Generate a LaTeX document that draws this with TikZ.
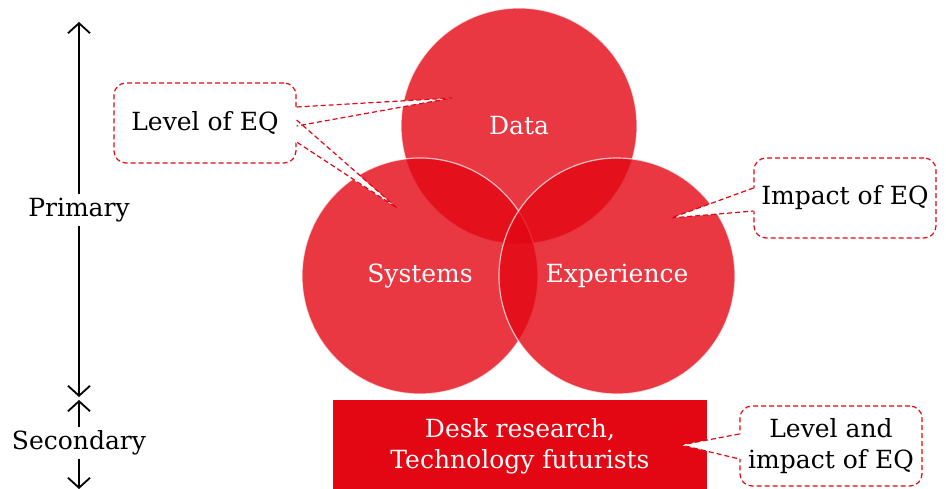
\documentclass[tikz,border=0pt]{standalone}
\usepackage{fontspec}
\setmainfont{DejaVu Serif}
\usetikzlibrary{arrows.meta, calc}
\definecolor{eqred}{RGB}{227,6,19}
\tikzstyle{venn} = [circle, minimum size=236pt, inner sep=0pt, fill=eqred, fill opacity=0.8, text opacity=1, draw=white, draw opacity=0.7, line width=1.2pt, text=white]
\tikzstyle{basebox} = [rectangle, minimum width=374pt, minimum height=92pt, fill=eqred, text=white, align=center]
\tikzstyle{callout} = [rectangle, rounded corners=12pt, minimum width=182pt, minimum height=80pt, draw=eqred, line width=1.2pt, dash pattern=on 5pt off 3pt, fill=white, align=center]
\tikzstyle{wedge} = [draw=eqred, line width=1.2pt, dash pattern=on 5pt off 3pt]
\tikzstyle{axisline} = [line width=1.8pt, -{Straight Barb[length=10pt,width=22pt]}]

\begin{document}
\begin{tikzpicture}[x=1pt, y=-1pt, font=\fontsize{25}{31}\selectfont]
	\useasboundingbox (0,0) rectangle (946,489);

		% Draw the nodes
		\node (data) [venn] at (519,126) {Data};
		\node (systems) [venn] at (420,276) {Systems};
		\node (experience) [venn] at (617,276) {Experience};
		\node (research) [basebox] at (520,446) {Desk research,\\Technology futurists};

		\node (level) [callout] at (205,123) {Level of EQ};
		\node (impact) [callout] at (845,198) {Impact of EQ};
		\node (both) [callout] at (831,446) {Level and\\impact of EQ};

		\node (primary) at (79,210) {Primary};
		\node (secondary) at (79,443) {Secondary};
		\coordinate (ptop) at (79,22);
		\coordinate (pbot) at (79,397);
		\coordinate (stop) at (79,400);
		\coordinate (sbot) at (79,489);

		% callout tips
		\coordinate (tipdata) at (452,98);
		\coordinate (tipsys) at (397,208);
		\coordinate (tipexp) at (671,218);
		\coordinate (tipres) at (681,445);

		%Draw the pointers
		\fill [white] ($(level.east)+(-2,-16)$) -- (tipdata) -- ($(level.east)+(-2,3)$) -- cycle;
		\fill [white] ($(level.east)+(-2,-3)$) -- (tipsys) -- ($(level.east)+(-2,19)$) -- cycle;
		\fill [white] ($(impact.west)+(2,-10)$) -- (tipexp) -- ($(impact.west)+(2,13)$) -- cycle;
		\fill [white] ($(both.west)+(2,-12)$) -- (tipres) -- ($(both.west)+(2,13)$) -- cycle;
		\draw [wedge] ($(level.east)+(0,-16)$) -- (tipdata) -- ($(level.east)+(0,3)$);
		\draw [wedge] ($(level.east)+(0,-3)$) -- (tipsys) -- ($(level.east)+(0,19)$);
		\draw [wedge] ($(impact.west)+(0,-10)$) -- (tipexp) -- ($(impact.west)+(0,13)$);
		\draw [wedge] ($(both.west)+(0,-12)$) -- (tipres) -- ($(both.west)+(0,13)$);

		%Draw the arrows
		\draw [axisline] (primary) -- (ptop);
		\draw [axisline] (primary) -- (pbot);
		\draw [axisline] (secondary) -- (stop);
		\draw [axisline] (secondary) -- (sbot);

	\end{tikzpicture}
\end{document}
